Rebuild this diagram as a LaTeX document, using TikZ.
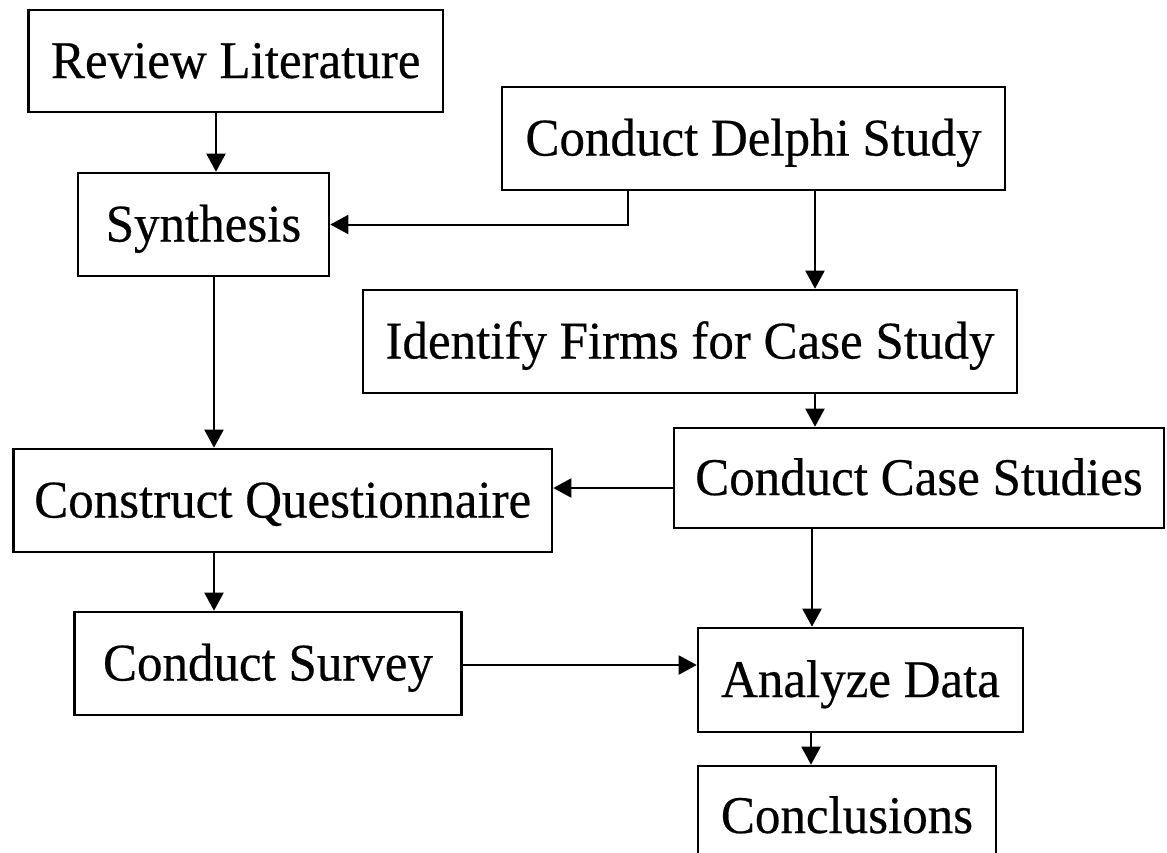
\documentclass[tikz,border=0pt]{standalone}
\usepackage{fontspec}
\setmainfont[FakeStretch=0.962,FakeBold=0.4]{Liberation Serif}
\usetikzlibrary{arrows.meta}
\tikzset{
  box/.style={draw, line width=1.3pt, inner sep=0pt, align=center,
    font=\fontsize{26.5}{30}\selectfont, text height=17pt, text depth=0pt},
  sz/.style 2 args={minimum width=#1*0.5pt, minimum height=#2*0.5pt},
  arr/.style={line width=1pt, -{Triangle[length=9pt,width=9.5pt]}}
}
\begin{document}
\begin{tikzpicture}[x=0.5pt,y=-0.5pt]
\useasboundingbox (0,0) rectangle (1167,852);
\clip (0,0) rectangle (1167,852);

% process boxes
\node[box, sz={414.5}{102}] (rl)  at (235.75,61)  {Review Literature};
\node[box, sz={251}{103}]   (syn) at (203.5,224.5) {Synthesis};
\node[box, sz={503}{103}]   (del) at (753.5,138.5) {Conduct Delphi Study};
\node[box, sz={654}{103}]   (idf) at (690,341.5)   {Identify Firms for Case Study};
\node[box, sz={490}{100}]   (cas) at (919,478)     {Conduct Case Studies};
\node[box, sz={538.5}{103}] (con) at (282.75,500.5) {Construct Questionnaire};
\node[box, sz={387}{103}]   (sur) at (268,663.5)   {Conduct Survey};
\node[box, sz={325}{104}]   (ana) at (860.5,680)   {Analyze Data};
\node[box, sz={298}{100}]   (cnc) at (847,816)     {Conclusions};

% guide lines for the connectors
\coordinate (xa) at (216,0);
\coordinate (xb) at (628,0);
\coordinate (xc) at (815,0);
\coordinate (xd) at (214,0);
\coordinate (xe) at (812,0);
\coordinate (xf) at (811,0);
\coordinate (ya) at (0,488);
\coordinate (yb) at (0,665);

% connectors
\draw[arr] (rl.south -| xa) -- (syn.north -| xa);
\draw[arr] (del.south -| xb) |- (syn.east);
\draw[arr] (del.south -| xc) -- (idf.north -| xc);
\draw[arr] (idf.south -| xc) -- (cas.north -| xc);
\draw[arr] (cas.west |- ya) -- (con.east |- ya);
\draw[arr] (syn.south -| xd) -- (con.north -| xd);
\draw[arr] (con.south -| xd) -- (sur.north -| xd);
\draw[arr] (cas.south -| xe) -- (ana.north -| xe);
\draw[arr] (sur.east |- yb) -- (ana.west |- yb);
\draw[arr] (ana.south -| xf) -- (cnc.north -| xf);
\end{tikzpicture}
\end{document}
